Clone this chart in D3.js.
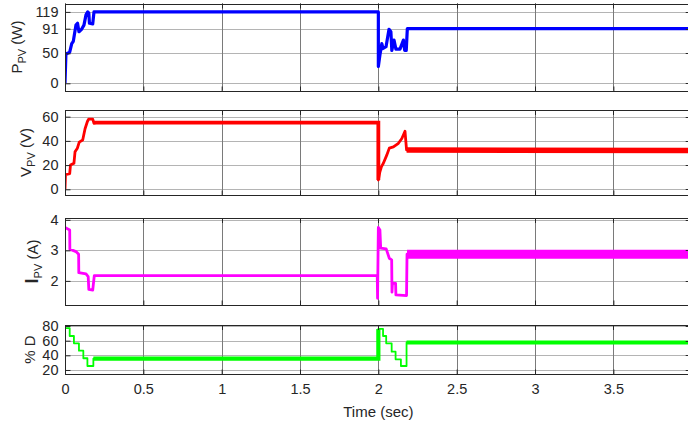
<!DOCTYPE html>
<html>
<head>
<meta charset="utf-8">
<script src="https://cdn.jsdelivr.net/npm/d3@7"></script>
<style>
  html, body { margin: 0; padding: 0; background: #fff; }
  svg { display: block; font-family: "Liberation Sans", Arial, sans-serif; }
</style>
</head>
<body>
<div id="chart"></div>
<script>
// ---- data ----
const xTicks = [0, 0.5, 1, 1.5, 2, 2.5, 3, 3.5, 4];
const xTickLabels = ['0', '0.5', '1', '1.5', '2', '2.5', '3', '3.5', '4'];

const pTicks = [0, 50, 91, 119];
const vTicks = [0, 20, 40, 60];
const iTicks = [2, 3, 4];
const dTicks = [20, 40, 60, 80];

const pTime = [0, 0.006, 0.01, 0.03, 0.043, 0.053, 0.07, 0.08, 0.089, 0.106, 0.121, 0.134, 0.145, 0.152, 0.156, 0.177, 0.185, 2.0,
  2.0, 2.01, 2.022, 2.03, 2.049, 2.068, 2.08, 2.086, 2.1, 2.112, 2.138, 2.16, 2.168, 2.178, 2.185, 4];
const pVal = [0, 50, 49, 52, 66, 70, 97, 100, 86, 90, 97, 114, 119, 117, 100, 99, 119, 119,
  28, 47, 66, 58, 61, 90, 86, 55, 72, 57, 57, 72, 55, 55, 91, 91];

const vTime = [0, 0.003, 0.03, 0.035, 0.057, 0.064, 0.079, 0.091, 0.113, 0.128, 0.143, 0.151, 0.177, 0.185, 0.19, 2.0,
  2.0, 2.01, 2.02, 2.032, 2.053, 2.07, 2.096, 2.128, 2.15, 2.17, 2.18, 4];
const vVal = [0, 12, 13, 20, 21.5, 31, 34, 39, 40.7, 50, 56, 58, 58, 54.5, 55, 55,
  7.7, 14.5, 18.7, 21.5, 28, 34, 35, 38, 42, 48, 32.5, 32];

const iTime = [0, 0.03, 0.031, 0.07, 0.087, 0.088, 0.134, 0.148, 0.152, 0.177, 0.187, 1.993, 1.995,
  2.0, 2.01, 2.015, 2.05, 2.07, 2.085, 2.087, 2.09, 2.11, 2.112, 2.18, 2.183, 4];
const iVal = [3.75, 3.67, 3.04, 2.96, 2.87, 2.27, 2.23, 2.14, 1.72, 1.7, 2.17, 2.17, 1.43,
  3.75, 3.67, 3.07, 3.05, 2.74, 2.69, 1.63, 1.92, 1.92, 1.54, 1.52, 2.875, 2.875];

const dTime = [0, 0.03, 0.057, 0.089, 0.117, 0.143, 0.181, 2.0, 2.03, 2.05, 2.085, 2.11, 2.144, 2.18, 4];
const dVal = [77, 66.4, 56.4, 46.3, 36, 25.4, 35.5, 76, 66.4, 56.4, 45, 34.6, 25.4, 57.5, 57.5];

// ---- layout / style ----
const width = 688, height = 423;
const left = 65, right = 691.7;
const textColor = '#262626';

const panels = [
  { time: pTime, val: pVal, ticks: pTicks, color: '#0000ff', top: 3.5, bottom: 90.5, domain: [-12, 133],
    label: ['P', 'PV', ' (W)'], labelX: 17, width: 3.2, heavy: [], step: false },
  { time: vTime, val: vVal, ticks: vTicks, color: '#ff0000', top: 110, bottom: 195, domain: [-4.7, 65.5],
    label: ['V', 'PV', ' (V)'], labelX: 26, width: 2.8, heavy: [[0.185, 2.0, 3.8], [2.18, 4, 5.5]], step: false },
  { time: iTime, val: iVal, ticks: iTicks, color: '#ff00ff', top: 218, bottom: 305, domain: [1.21, 4.06],
    label: ['I', 'PV', ' (A)'], labelX: 33, width: 2.8, heavy: [[2.183, 4, 9]], step: false },
  { time: dTime, val: dVal, ticks: dTicks, color: '#00ff00', top: 325, bottom: 374, domain: [14.5, 81.4],
    label: ['% D', '', ''], labelX: 30, width: 1.8, heavy: [[0.181, 2.0, 4.2], [2.18, 4, 4.2]], step: true }
];

const x = d3.scaleLinear().domain([0, 4]).range([left, right]);

const svg = d3.select('#chart').append('svg')
  .attr('width', width)
  .attr('height', height);

svg.append('rect').attr('width', width).attr('height', height).attr('fill', '#fff');

panels.forEach((p, idx) => {
  const y = d3.scaleLinear().domain(p.domain).range([p.bottom, p.top]);
  const g = svg.append('g');

  const clipId = 'clip' + idx;
  svg.append('clipPath').attr('id', clipId)
    .append('rect')
      .attr('x', left).attr('y', p.top)
      .attr('width', right - left).attr('height', p.bottom - p.top);

  // gridlines
  g.selectAll('.hgrid').data(p.ticks).enter().append('line')
    .attr('x1', left).attr('x2', right)
    .attr('y1', d => Math.round(y(d)) + 0.5).attr('y2', d => Math.round(y(d)) + 0.5)
    .style('stroke', '#b4b4b4').style('stroke-width', 1);
  g.selectAll('.vgrid').data(xTicks).enter().append('line')
    .attr('x1', d => Math.round(x(d)) + 0.5).attr('x2', d => Math.round(x(d)) + 0.5)
    .attr('y1', p.top).attr('y2', p.bottom)
    .style('stroke', '#7a7a7a').style('stroke-width', 1);

  // data
  const pts = p.time.map((t, i) => [t, p.val[i]]);
  const line = d3.line()
    .x(d => x(d[0]))
    .y(d => y(d[1]))
    .curve(p.step ? d3.curveStepAfter : d3.curveLinear);
  const plot = g.append('g').attr('clip-path', `url(#${clipId})`);
  plot.append('path')
    .datum(pts)
    .attr('d', line)
    .style('fill', 'none')
    .style('stroke', p.color)
    .style('stroke-width', p.width)
    .style('stroke-linejoin', 'round');
  p.heavy.forEach(h => {
    const seg = pts.filter(d => d[0] >= h[0] && d[0] <= h[1]);
    plot.append('path')
      .datum(seg)
      .attr('d', line)
      .style('fill', 'none')
      .style('stroke', p.color)
      .style('stroke-width', h[2]);
  });

  // frame
  g.append('rect')
    .attr('x', left + 0.5).attr('y', Math.round(p.top) + 0.5)
    .attr('width', right - left).attr('height', Math.round(p.bottom) - Math.round(p.top))
    .style('fill', 'none').style('stroke', textColor).style('stroke-width', 1);

  // y axis (ticks inward)
  const yAxis = d3.axisLeft(y).tickValues(p.ticks).tickSize(-5).tickPadding(7).tickFormat(d3.format('d'));
  const ya = g.append('g').attr('transform', `translate(${left + 0.5},0)`).call(yAxis);
  ya.select('.domain').remove();
  ya.selectAll('line').style('stroke', textColor);
  ya.selectAll('text').style('font-size', '14.5px').style('fill', textColor);

  // right ticks
  g.selectAll('.rtick').data(p.ticks).enter().append('line')
    .attr('x1', right - 6).attr('x2', right)
    .attr('y1', d => Math.round(y(d)) + 0.5).attr('y2', d => Math.round(y(d)) + 0.5)
    .style('stroke', textColor);

  // x ticks bottom & top
  const xAxis = d3.axisBottom(x).tickValues(xTicks).tickSize(-5).tickPadding(9)
    .tickFormat((d, i) => idx === panels.length - 1 ? xTickLabels[i] : '');
  const xa = g.append('g').attr('transform', `translate(0,${Math.round(p.bottom) + 0.5})`).call(xAxis);
  xa.select('.domain').remove();
  xa.selectAll('line').style('stroke', textColor);
  xa.selectAll('text').style('font-size', '14.5px').style('fill', textColor);

  g.selectAll('.ttick').data(xTicks).enter().append('line')
    .attr('x1', d => Math.round(x(d)) + 0.5).attr('x2', d => Math.round(x(d)) + 0.5)
    .attr('y1', p.top).attr('y2', p.top + 5)
    .style('stroke', textColor);

  // y label
  const cy = (p.top + p.bottom) / 2;
  const lbl = g.append('text')
    .attr('transform', `translate(${p.labelX},${cy}) rotate(-90)`)
    .attr('text-anchor', 'middle')
    .attr('dy', '0.35em')
    .style('font-size', '15px')
    .style('fill', textColor);
  lbl.append('tspan').text(p.label[0])
    .style('font-size', p.label[0] === 'I' ? '18px' : '15px')
    .style('font-weight', p.label[0] === 'I' ? 'bold' : 'normal');
  if (p.label[1]) {
    lbl.append('tspan').text(p.label[1]).attr('dy', '4').style('font-size', '11px');
    lbl.append('tspan').text(p.label[2]).attr('dy', '-4');
  }
});

svg.append('text')
  .attr('x', x(2))
  .attr('y', 417)
  .attr('text-anchor', 'middle')
  .style('font-size', '15px')
  .style('fill', textColor)
  .text('Time (sec)');
</script>
</body>
</html>
